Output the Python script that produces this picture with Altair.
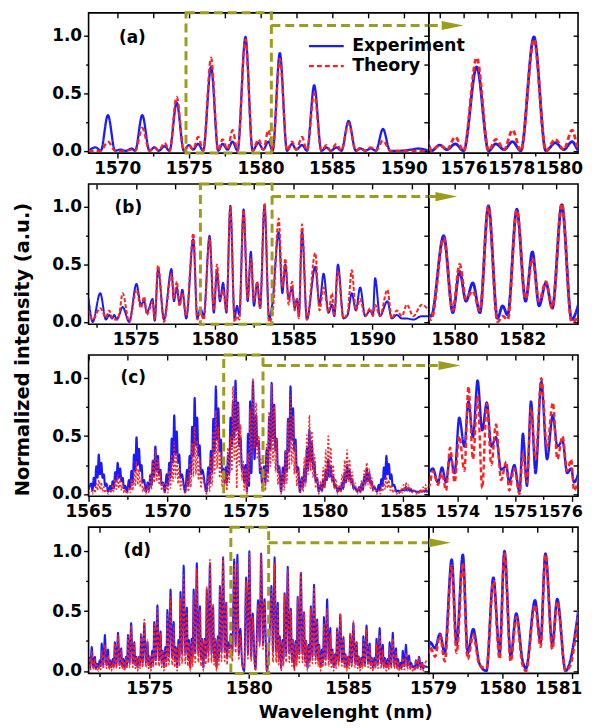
import altair as alt
import pandas as pd

# ---------------- data ----------------
SERIES = ["Experiment", "Theory"]

# panel (a)
A_WL = [1568.0, 1568.5, 1568.85, 1569.35, 1569.85, 1570.2, 1570.6, 1571.0, 1571.25, 1571.75,
        1572.25, 1572.6, 1572.9, 1573.3, 1573.65, 1574.15, 1574.65, 1575.0, 1575.3, 1575.65,
        1576.0, 1576.55, 1577.05, 1577.35, 1577.7, 1578.05, 1578.4, 1578.95, 1579.45, 1579.85,
        1580.2, 1580.55, 1580.85, 1581.35, 1581.85, 1582.2, 1582.5, 1582.9, 1583.25, 1583.75,
        1584.25, 1584.6, 1584.9, 1585.3, 1585.65, 1586.15, 1586.65, 1587.0, 1587.3, 1587.7,
        1588.05, 1588.55, 1589.05, 1589.6, 1590.5, 1591.0, 1591.75]
A_EXP = [0.0, 0.03, 0.0, 0.31, 0.0, 0.01, 0.0, 0.02, 0.0, 0.31,
         0.0, 0.03, 0.0, 0.04, 0.0, 0.42, 0.0, 0.05, 0.01, 0.06,
         0.0, 0.73, 0.0, 0.06, 0.01, 0.08, 0.0, 0.99, 0.0, 0.07,
         0.01, 0.08, 0.0, 0.85, 0.0, 0.06, 0.01, 0.05, 0.0, 0.57,
         0.0, 0.03, 0.0, 0.03, 0.0, 0.26, 0.0, 0.02, 0.0, 0.02,
         0.0, 0.19, 0.0, 0.0, 0.01, 0.02, 0.0]
A_THEO = [0.0, 0.0, 0.0, 0.08, 0.0, 0.0, 0.0, 0.01, 0.0, 0.2,
          0.0, 0.03, 0.0, 0.07, 0.0, 0.47, 0.0, 0.05, 0.01, 0.12,
          0.0, 0.81, 0.0, 0.1, 0.01, 0.18, 0.0, 0.97, 0.0, 0.1,
          0.01, 0.18, 0.0, 0.8, 0.0, 0.08, 0.01, 0.12, 0.0, 0.5,
          0.0, 0.05, 0.0, 0.06, 0.0, 0.24, 0.0, 0.03, 0.0, 0.03,
          0.0, 0.09, 0.0, 0.0, 0.0, 0.0, 0.0]

# panel (b)
B_WL = [1572.0, 1572.26, 1572.74, 1573.1, 1573.31, 1573.5, 1573.63, 1573.8, 1573.94, 1574.16,
        1574.58, 1575.04, 1575.32, 1575.53, 1575.7, 1575.84, 1576.06, 1576.2, 1576.41, 1576.79,
        1577.26, 1577.42, 1577.6, 1577.78, 1577.95, 1578.2, 1578.65, 1578.9, 1579.1, 1579.31,
        1579.68, 1579.95, 1580.15, 1580.34, 1580.54, 1580.75, 1581.0, 1581.27, 1581.42, 1581.57,
        1581.84, 1582.1, 1582.3, 1582.5, 1582.7, 1582.89, 1583.17, 1583.46, 1583.66, 1584.07,
        1584.3, 1584.49, 1584.7, 1584.92, 1585.08, 1585.23, 1585.35, 1585.55, 1585.86, 1586.39,
        1586.66, 1586.92, 1587.23, 1587.45, 1587.6, 1587.83, 1588.18, 1588.44, 1588.71, 1588.97,
        1589.24, 1589.56, 1589.87, 1590.05, 1590.19, 1590.5, 1590.97, 1591.25, 1591.57, 1591.89,
        1592.2, 1592.62, 1593.15, 1593.6]
B_EXP = [0.2, 0.0, 0.25, 0.02, 0.06, 0.03, 0.06, 0.02, 0.06, 0.13,
         0.0, 0.33, 0.15, 0.18, 0.08, 0.12, 0.2, 0.01, 0.46, 0.02,
         0.46, 0.18, 0.3, 0.15, 0.28, 0.03, 0.72, 0.03, 0.12, 0.05,
         0.75, 0.08, 0.44, 0.18, 0.34, 0.08, 1.01, 0.03, 0.14, 0.06,
         0.98, 0.18, 0.61, 0.14, 0.34, 0.12, 1.02, 0.02, 0.15, 0.78,
         0.25, 0.5, 0.2, 0.3, 0.12, 0.2, 0.05, 0.79, 0.02, 0.48,
         0.15, 0.42, 0.08, 0.15, 0.05, 0.5, 0.03, 0.06, 0.25, 0.1,
         0.3, 0.05, 0.1, 0.06, 0.38, 0.05, 0.18, 0.03, 0.06, 0.03,
         0.03, 0.02, 0.05, 0.05]
B_THEO = [0.1, 0.02, 0.12, 0.04, 0.1, 0.03, 0.02, 0.02, 0.06, 0.25,
          0.0, 0.28, 0.12, 0.22, 0.06, 0.1, 0.18, 0.02, 0.49, 0.0,
          0.42, 0.2, 0.35, 0.14, 0.25, 0.05, 0.77, 0.02, 0.08, 0.02,
          0.73, 0.1, 0.5, 0.2, 0.27, 0.1, 1.0, 0.0, 0.05, 0.02,
          0.97, 0.2, 0.55, 0.18, 0.35, 0.12, 1.03, 0.0, 0.05, 0.9,
          0.3, 0.55, 0.15, 0.35, 0.1, 0.2, 0.03, 0.85, 0.02, 0.6,
          0.1, 0.3, 0.08, 0.25, 0.05, 0.45, 0.03, 0.08, 0.45, 0.1,
          0.2, 0.05, 0.12, 0.05, 0.15, 0.05, 0.28, 0.03, 0.1, 0.05,
          0.15, 0.05, 0.15, 0.1]

# panel (c)
C_WL = [
    1565.0, 1565.17, 1565.25, 1565.33, 1565.41, 1565.49, 1565.57, 1565.65, 1565.73, 1565.81, 1565.89, 1565.97, 1566.05, 1566.13,
    1566.25, 1566.37, 1566.45, 1566.53, 1566.61, 1566.69, 1566.77, 1566.85, 1566.93, 1567.01, 1567.09, 1567.17, 1567.25, 1567.33,
    1567.45, 1567.57, 1567.65, 1567.73, 1567.81, 1567.89, 1567.97, 1568.05, 1568.13, 1568.21, 1568.29, 1568.37, 1568.45, 1568.53,
    1568.65, 1568.77, 1568.85, 1568.93, 1569.01, 1569.09, 1569.17, 1569.25, 1569.33, 1569.41, 1569.49, 1569.57, 1569.65, 1569.73,
    1569.85, 1569.97, 1570.05, 1570.13, 1570.21, 1570.29, 1570.37, 1570.45, 1570.53, 1570.61, 1570.69, 1570.77, 1570.85, 1570.93,
    1571.15, 1571.27, 1571.35, 1571.43, 1571.51, 1571.59, 1571.67, 1571.75, 1571.83, 1571.91, 1571.99, 1572.07, 1572.15, 1572.23,
    1572.5, 1572.62, 1572.7, 1572.78, 1572.86, 1572.94, 1573.02, 1573.1, 1573.18, 1573.26, 1573.34, 1573.42, 1573.5,
    1573.57, 1573.66, 1573.73, 1573.8, 1573.87, 1573.95, 1574.03, 1574.12, 1574.19, 1574.27, 1574.35, 1574.43, 1574.51, 1574.59,
    1574.67, 1574.76, 1574.85, 1574.9, 1574.99, 1575.08, 1575.14, 1575.21, 1575.28, 1575.36, 1575.46, 1575.56, 1575.66, 1575.74,
    1575.83, 1575.91, 1575.98, 1576.03,
    1576.17, 1576.25, 1576.33, 1576.41, 1576.49, 1576.57, 1576.65, 1576.73, 1576.81, 1576.89, 1576.97, 1577.05, 1577.13,
    1577.25, 1577.37, 1577.45, 1577.53, 1577.61, 1577.69, 1577.77, 1577.85, 1577.93, 1578.01, 1578.09, 1578.17, 1578.25, 1578.33,
    1578.45, 1578.57, 1578.65, 1578.73, 1578.81, 1578.89, 1578.97, 1579.05, 1579.13, 1579.21, 1579.29, 1579.37, 1579.45, 1579.53,
    1579.65, 1579.77, 1579.85, 1579.93, 1580.01, 1580.09, 1580.17, 1580.25, 1580.33, 1580.41, 1580.49, 1580.57, 1580.65, 1580.73,
    1580.85, 1580.97, 1581.05, 1581.13, 1581.21, 1581.29, 1581.37, 1581.45, 1581.53, 1581.61, 1581.69, 1581.77, 1581.85, 1581.93,
    1582.1, 1582.22, 1582.3, 1582.38, 1582.46, 1582.54, 1582.62, 1582.7, 1582.78, 1582.86, 1582.94, 1583.02, 1583.1, 1583.18,
    1583.35, 1583.47, 1583.55, 1583.63, 1583.71, 1583.79, 1583.87, 1583.95, 1584.03, 1584.11, 1584.19, 1584.27, 1584.35, 1584.43,
    1584.6, 1584.72, 1584.8, 1584.88, 1584.96, 1585.04, 1585.12, 1585.2, 1585.28, 1585.36, 1585.44, 1585.52, 1585.6, 1585.68,
    1585.85, 1585.97, 1586.05, 1586.13, 1586.21, 1586.29, 1586.37, 1586.45, 1586.53, 1586.61, 1586.69, 1586.77]
C_EXP = [
    0.04, 0.09, 0.03, 0.14, 0.07, 0.24, 0.14, 0.34, 0.17, 0.27, 0.14, 0.17, 0.07, 0.09,
    0.02, 0.07, 0.03, 0.11, 0.05, 0.19, 0.11, 0.27, 0.14, 0.22, 0.11, 0.14, 0.05, 0.07,
    0.02, 0.12, 0.05, 0.2, 0.1, 0.34, 0.2, 0.49, 0.25, 0.39, 0.2, 0.25, 0.1, 0.12,
    0.02, 0.1, 0.04, 0.16, 0.08, 0.29, 0.16, 0.41, 0.21, 0.33, 0.16, 0.21, 0.08, 0.1,
    0.02, 0.17, 0.07, 0.27, 0.14, 0.48, 0.27, 0.68, 0.34, 0.54, 0.27, 0.34, 0.14, 0.17,
    0.02, 0.21, 0.08, 0.33, 0.17, 0.58, 0.33, 0.83, 0.42, 0.66, 0.33, 0.42, 0.17, 0.21,
    0.02, 0.23, 0.09, 0.37, 0.19, 0.65, 0.37, 0.93, 0.47, 0.74, 0.37, 0.47, 0.19,
    0.22, 0.1, 0.23, 0.1, 0.33, 0.18, 0.66, 0.41, 0.8, 0.49, 0.98, 0.55, 0.79, 0.41,
    0.49, 0.21, 0.24, 0.1, 0.25, 0.02, 0.52, 0.07, 0.8, 0.18, 0.97, 0.3, 0.68, 0.41,
    0.46, 0.18, 0.22, 0.1,
    0.24, 0.1, 0.38, 0.19, 0.67, 0.38, 0.96, 0.48, 0.77, 0.38, 0.48, 0.19, 0.24,
    0.02, 0.23, 0.09, 0.37, 0.19, 0.65, 0.37, 0.93, 0.47, 0.74, 0.37, 0.47, 0.19, 0.23,
    0.02, 0.14, 0.06, 0.22, 0.11, 0.39, 0.22, 0.55, 0.28, 0.44, 0.22, 0.28, 0.11, 0.14,
    0.02, 0.08, 0.03, 0.12, 0.06, 0.21, 0.12, 0.3, 0.15, 0.24, 0.12, 0.15, 0.06, 0.08,
    0.02, 0.06, 0.03, 0.1, 0.05, 0.18, 0.1, 0.25, 0.13, 0.2, 0.1, 0.13, 0.05, 0.06,
    0.02, 0.06, 0.02, 0.09, 0.04, 0.15, 0.09, 0.22, 0.11, 0.18, 0.09, 0.11, 0.04, 0.06,
    0.02, 0.08, 0.03, 0.13, 0.07, 0.23, 0.13, 0.33, 0.17, 0.26, 0.13, 0.17, 0.07, 0.08,
    0.02, 0.03, 0.02, 0.03, 0.03, 0.04, 0.03, 0.06, 0.03, 0.05, 0.03, 0.04, 0.02, 0.03,
    0.02, 0.02, 0.02, 0.03, 0.02, 0.03, 0.02, 0.03, 0.02, 0.03, 0.02, 0.03]
C_THEO = [
    0.0, 0.03, 0.0, 0.05, 0.01, 0.09, 0.03, 0.12, 0.04, 0.1, 0.02, 0.06, 0.01, 0.03,
    0.0, 0.04, 0.01, 0.08, 0.02, 0.13, 0.04, 0.17, 0.05, 0.14, 0.03, 0.09, 0.01, 0.04,
    0.0, 0.06, 0.01, 0.13, 0.03, 0.21, 0.07, 0.28, 0.08, 0.22, 0.06, 0.14, 0.02, 0.07,
    0.0, 0.08, 0.01, 0.17, 0.04, 0.29, 0.1, 0.38, 0.11, 0.3, 0.08, 0.19, 0.03, 0.1,
    0.0, 0.1, 0.01, 0.2, 0.05, 0.34, 0.11, 0.45, 0.14, 0.36, 0.09, 0.23, 0.04, 0.11,
    0.0, 0.13, 0.02, 0.26, 0.06, 0.44, 0.15, 0.58, 0.17, 0.46, 0.12, 0.29, 0.05, 0.15,
    0.0, 0.16, 0.02, 0.32, 0.07, 0.54, 0.18, 0.72, 0.22, 0.58, 0.14, 0.36, 0.06,
    0.2, 0.08, 0.18, 0.03, 0.4, 0.1, 0.5, 0.2, 0.93, 0.3, 0.85, 0.05, 0.78, 0.25,
    0.6, 0.12, 0.28, 0.03, 0.22, 0.0, 0.35, 0.1, 0.74, 0.3, 1.0, 0.4, 0.79, 0.3,
    0.5, 0.2, 0.3, 0.03,
    0.21, 0.03, 0.43, 0.1, 0.71, 0.24, 0.95, 0.29, 0.76, 0.19, 0.48, 0.08, 0.24,
    0.0, 0.19, 0.03, 0.38, 0.09, 0.64, 0.21, 0.85, 0.26, 0.68, 0.17, 0.43, 0.07, 0.21,
    0.0, 0.15, 0.02, 0.31, 0.07, 0.51, 0.17, 0.68, 0.2, 0.54, 0.14, 0.34, 0.05, 0.17,
    0.0, 0.11, 0.02, 0.23, 0.05, 0.38, 0.13, 0.5, 0.15, 0.4, 0.1, 0.25, 0.04, 0.13,
    0.0, 0.08, 0.01, 0.17, 0.04, 0.29, 0.1, 0.38, 0.11, 0.3, 0.08, 0.19, 0.03, 0.1,
    0.0, 0.06, 0.01, 0.12, 0.03, 0.2, 0.07, 0.27, 0.08, 0.22, 0.05, 0.14, 0.02, 0.07,
    0.0, 0.03, 0.0, 0.07, 0.02, 0.11, 0.04, 0.15, 0.05, 0.12, 0.03, 0.08, 0.01, 0.04,
    0.0, 0.02, 0.0, 0.05, 0.01, 0.08, 0.03, 0.1, 0.03, 0.08, 0.02, 0.05, 0.01, 0.03,
    0.0, 0.02, 0.0, 0.04, 0.01, 0.06, 0.02, 0.08, 0.02, 0.06, 0.02, 0.05]

# panel (d)
D_WL = [
    1572.0, 1572.03, 1572.11, 1572.19, 1572.27, 1572.32, 1572.37,
    1572.44, 1572.51, 1572.56, 1572.61, 1572.69, 1572.77, 1572.85, 1572.93, 1572.98, 1573.03,
    1573.1, 1573.17, 1573.22, 1573.27, 1573.35, 1573.43, 1573.51, 1573.59, 1573.64, 1573.69,
    1573.76, 1573.83, 1573.88, 1573.93, 1574.01, 1574.09, 1574.17, 1574.25, 1574.3, 1574.35,
    1574.42, 1574.49, 1574.54, 1574.59, 1574.67, 1574.75, 1574.83, 1574.91, 1574.96, 1575.01,
    1575.08, 1575.15, 1575.2, 1575.25, 1575.33, 1575.41, 1575.49, 1575.57, 1575.62, 1575.67,
    1575.74, 1575.81, 1575.86, 1575.91, 1575.99, 1576.07, 1576.15, 1576.23, 1576.28, 1576.33,
    1576.4, 1576.47, 1576.52, 1576.57, 1576.65, 1576.73, 1576.81, 1576.89, 1576.94, 1576.99,
    1577.06, 1577.13, 1577.18, 1577.23, 1577.31, 1577.39, 1577.47, 1577.55, 1577.6, 1577.65,
    1577.72, 1577.79, 1577.84, 1577.89, 1577.97, 1578.05, 1578.13, 1578.21, 1578.26, 1578.31,
    1578.38, 1578.45, 1578.5, 1578.55, 1578.63, 1578.71, 1578.79, 1578.87, 1578.91,
    1578.96, 1579.03, 1579.1, 1579.17, 1579.27, 1579.34, 1579.43, 1579.5, 1579.58, 1579.67,
    1579.77, 1579.87, 1579.96, 1580.03, 1580.12, 1580.2, 1580.29, 1580.34, 1580.47, 1580.55,
    1580.62, 1580.72, 1580.79, 1580.91, 1580.98, 1581.08,
    1581.14, 1581.22, 1581.3, 1581.38, 1581.46, 1581.51, 1581.56,
    1581.63, 1581.7, 1581.75, 1581.8, 1581.88, 1581.96, 1582.04, 1582.12, 1582.17, 1582.22,
    1582.29, 1582.36, 1582.41, 1582.46, 1582.54, 1582.62, 1582.7, 1582.78, 1582.83, 1582.88,
    1582.95, 1583.02, 1583.07, 1583.12, 1583.2, 1583.28, 1583.36, 1583.44, 1583.49, 1583.54,
    1583.61, 1583.68, 1583.73, 1583.78, 1583.86, 1583.94, 1584.02, 1584.1, 1584.15, 1584.2,
    1584.27, 1584.34, 1584.39, 1584.44, 1584.52, 1584.6, 1584.68, 1584.76, 1584.81, 1584.86,
    1584.93, 1585.0, 1585.05, 1585.1, 1585.18, 1585.26, 1585.34, 1585.42, 1585.47, 1585.52,
    1585.59, 1585.66, 1585.71, 1585.76, 1585.84, 1585.92, 1586.0, 1586.08, 1586.13, 1586.18,
    1586.25, 1586.32, 1586.37, 1586.42, 1586.5, 1586.58, 1586.66, 1586.74, 1586.79, 1586.84,
    1586.91, 1586.98, 1587.03, 1587.08, 1587.16, 1587.24, 1587.32, 1587.4, 1587.45, 1587.5,
    1587.57, 1587.64, 1587.69, 1587.74, 1587.82, 1587.9, 1587.98, 1588.06, 1588.11, 1588.16,
    1588.23, 1588.3, 1588.35, 1588.4, 1588.48, 1588.56, 1588.64, 1588.72, 1588.77, 1588.82, 1589.0]
D_EXP = [
    0.12, 0.03, 0.2, 0.03, 0.12, 0.02, 0.06,
    0.03, 0.09, 0.04, 0.23, 0.05, 0.3, 0.05, 0.18, 0.04, 0.09,
    0.03, 0.1, 0.04, 0.24, 0.05, 0.32, 0.05, 0.19, 0.04, 0.1,
    0.03, 0.12, 0.05, 0.3, 0.07, 0.4, 0.07, 0.24, 0.05, 0.12,
    0.03, 0.12, 0.05, 0.3, 0.07, 0.4, 0.07, 0.24, 0.05, 0.12,
    0.03, 0.17, 0.07, 0.41, 0.09, 0.55, 0.09, 0.33, 0.07, 0.17,
    0.03, 0.2, 0.08, 0.51, 0.12, 0.68, 0.12, 0.41, 0.08, 0.2,
    0.03, 0.26, 0.11, 0.66, 0.15, 0.88, 0.15, 0.53, 0.11, 0.26,
    0.03, 0.27, 0.11, 0.68, 0.15, 0.9, 0.15, 0.54, 0.11, 0.27,
    0.03, 0.27, 0.11, 0.68, 0.15, 0.9, 0.15, 0.54, 0.11, 0.27,
    0.03, 0.29, 0.11, 0.71, 0.16, 0.95, 0.16, 0.57, 0.11,
    0.24, 0.19, 0.31, 0.15, 0.93, 0.22, 0.97, 0.15, 0.35, 0.06,
    0.0, 0.78, 0.15, 1.0, 0.12, 0.48, 0.09, 0.02, 0.59, 0.24,
    0.98, 0.22, 0.6, 0.0, 0.09, 0.44,
    0.71, 0.16, 0.95, 0.16, 0.57, 0.11, 0.29,
    0.03, 0.26, 0.1, 0.65, 0.15, 0.87, 0.15, 0.52, 0.1, 0.26,
    0.03, 0.25, 0.1, 0.62, 0.14, 0.82, 0.14, 0.49, 0.1, 0.25,
    0.03, 0.22, 0.09, 0.54, 0.12, 0.72, 0.12, 0.43, 0.09, 0.22,
    0.03, 0.18, 0.07, 0.45, 0.1, 0.6, 0.1, 0.36, 0.07, 0.18,
    0.03, 0.14, 0.06, 0.35, 0.08, 0.47, 0.08, 0.28, 0.06, 0.14,
    0.03, 0.12, 0.05, 0.3, 0.07, 0.4, 0.07, 0.24, 0.05, 0.12,
    0.03, 0.11, 0.05, 0.29, 0.06, 0.38, 0.06, 0.23, 0.05, 0.11,
    0.03, 0.11, 0.04, 0.27, 0.06, 0.36, 0.06, 0.22, 0.04, 0.11,
    0.03, 0.1, 0.04, 0.24, 0.05, 0.32, 0.05, 0.19, 0.04, 0.1,
    0.03, 0.07, 0.03, 0.17, 0.04, 0.22, 0.04, 0.13, 0.03, 0.07,
    0.03, 0.04, 0.02, 0.09, 0.03, 0.12, 0.03, 0.07, 0.02, 0.04, 0.03]
D_THEO = [
    0.1, 0.01, 0.17, 0.01, 0.1, 0.01, 0.05,
    0.0, 0.06, 0.01, 0.17, 0.02, 0.22, 0.02, 0.13, 0.01, 0.07,
    0.0, 0.08, 0.02, 0.23, 0.02, 0.3, 0.02, 0.18, 0.02, 0.09,
    0.0, 0.11, 0.02, 0.29, 0.03, 0.38, 0.03, 0.23, 0.02, 0.11,
    0.0, 0.12, 0.02, 0.32, 0.03, 0.43, 0.03, 0.26, 0.02, 0.13,
    0.0, 0.15, 0.03, 0.39, 0.04, 0.52, 0.04, 0.31, 0.03, 0.16,
    0.0, 0.17, 0.03, 0.47, 0.05, 0.62, 0.05, 0.37, 0.03, 0.19,
    0.0, 0.22, 0.04, 0.6, 0.06, 0.8, 0.06, 0.48, 0.04, 0.24,
    0.0, 0.24, 0.04, 0.64, 0.07, 0.85, 0.07, 0.51, 0.04, 0.26,
    0.0, 0.26, 0.05, 0.7, 0.07, 0.93, 0.07, 0.56, 0.05, 0.28,
    0.0, 0.27, 0.05, 0.71, 0.08, 0.95, 0.08, 0.57, 0.05,
    0.2, 0.12, 0.3, 0.08, 0.88, 0.15, 0.9, 0.1, 0.3, 0.05,
    0.02, 0.75, 0.1, 0.98, 0.08, 0.45, 0.05, 0.0, 0.55, 0.2,
    0.97, 0.18, 0.58, 0.0, 0.05, 0.4,
    0.68, 0.07, 0.9, 0.07, 0.54, 0.05, 0.27,
    0.0, 0.24, 0.04, 0.64, 0.07, 0.85, 0.07, 0.51, 0.04, 0.26,
    0.0, 0.23, 0.04, 0.62, 0.07, 0.82, 0.07, 0.49, 0.04, 0.25,
    0.0, 0.2, 0.04, 0.53, 0.06, 0.7, 0.06, 0.42, 0.04, 0.21,
    0.0, 0.15, 0.03, 0.39, 0.04, 0.52, 0.04, 0.31, 0.03, 0.16,
    0.0, 0.13, 0.02, 0.36, 0.04, 0.48, 0.04, 0.29, 0.02, 0.14,
    0.0, 0.12, 0.02, 0.32, 0.03, 0.42, 0.03, 0.25, 0.02, 0.13,
    0.0, 0.1, 0.02, 0.26, 0.03, 0.35, 0.03, 0.21, 0.02, 0.1,
    0.0, 0.08, 0.02, 0.23, 0.02, 0.3, 0.02, 0.18, 0.02, 0.09,
    0.0, 0.08, 0.01, 0.2, 0.02, 0.27, 0.02, 0.16, 0.01, 0.08,
    0.0, 0.04, 0.01, 0.11, 0.01, 0.15, 0.01, 0.09, 0.01, 0.05,
    0.0, 0.03, 0.0, 0.09, 0.01, 0.12, 0.01, 0.07, 0.0, 0.04, 0.1]

# ---------------- style and layout ----------------
FONT = "DejaVu Sans"
BLUE = "#1a1aff"
RED = "#ff2020"
OLIVE = "#9c9c1e"
YDOM = [-0.02, 1.2]
MAIN_W, ZOOM_W = 342, 150
ARROW_SHAPE = "M -1 -0.42 L 1 0 L -1 0.42 Z"

PANELS = [
    dict(letter="(a)", wl=A_WL, exp=A_EXP, theo=A_THEO, h=141,
         main_dom=[1568.0, 1591.75], main_major=[1570, 1575, 1580, 1585, 1590],
         main_minor=[1572.5, 1577.5, 1582.5, 1587.5],
         zoom_dom=[1574.54, 1580.8], zoom_major=[1576, 1578, 1580], zoom_minor=[1575, 1577, 1579],
         zoom_last=None, zoom_fs=17,
         box=[1574.8, 1580.76], arrow_y=1.09, head=1575.54, letter_pos=(44, 25),
         main_sw=2.3, main_red_sw=2.3, main_dash=[5, 3], zoom_sw=2.8),
    dict(letter="(b)", wl=B_WL, exp=B_EXP, theo=B_THEO, h=141,
         main_dom=[1572.0, 1593.6], main_major=[1575, 1580, 1585, 1590],
         main_minor=[1572.5, 1577.5, 1582.5, 1587.5, 1592.5],
         zoom_dom=[1579.24, 1583.65], zoom_major=[1580, 1582], zoom_minor=[1581, 1583],
         zoom_last=None, zoom_fs=17,
         box=[1579.1, 1583.65], arrow_y=1.09, head=1579.76, letter_pos=(40, 24),
         main_sw=2.0, main_red_sw=2.0, main_dash=[4, 2], zoom_sw=2.8),
    dict(letter="(c)", wl=C_WL, exp=C_EXP, theo=C_THEO, h=142,
         main_dom=[1565.0, 1586.65], main_major=[1565, 1570, 1575, 1580, 1585],
         main_minor=[1567.5, 1572.5, 1577.5, 1582.5],
         zoom_dom=[1573.5, 1576.1], zoom_major=[1574, 1575, 1576], zoom_minor=[1574.5, 1575.5],
         zoom_last=1576, zoom_fs=16,
         box=[1573.6, 1576.1], arrow_y=1.11, head=1573.86, letter_pos=(45, 23),
         main_sw=2.1, main_red_sw=1.5, main_dash=[2, 2], zoom_sw=2.4),
    dict(letter="(d)", wl=D_WL, exp=D_EXP, theo=D_THEO, h=147,
         main_dom=[1571.95, 1589.05], main_major=[1575, 1580, 1585],
         main_minor=[1572.5, 1577.5, 1582.5, 1587.5],
         zoom_dom=[1578.94, 1581.09], zoom_major=[1579, 1580, 1581], zoom_minor=[1579.5, 1580.5],
         zoom_last=1581, zoom_fs=17,
         box=[1579.1, 1581.0], arrow_y=1.07, head=1579.1, letter_pos=(49, 24),
         main_sw=1.9, main_red_sw=1.5, main_dash=[3, 2], zoom_sw=2.6),
]

LEGEND = alt.Legend(orient="none", legendX=220, legendY=23.5, title=None,
                    labelFont=FONT, labelFontWeight="bold", labelFontSize=17.5, labelColor="black",
                    symbolType="stroke", symbolSize=1225, symbolStrokeWidth=2.5,
                    labelOffset=7, rowPadding=0, clipHeight=20, padding=0)


def long_df(wl, exp, theo):
    assert len(wl) == len(exp) == len(theo), (len(wl), len(exp), len(theo))
    n = len(wl)
    return pd.DataFrame({"wl": list(wl) + list(wl),
                         "val": list(exp) + list(theo),
                         "series": [SERIES[0]] * n + [SERIES[1]] * n})


def lab_axis(orient, values, fmt, **extra):
    base = dict(orient=orient, values=values, format=fmt, labelFont=FONT, labelFontWeight="bold",
                labelFontSize=17, labelColor="black", labelPadding=2, labelFlush=False,
                labelOverlap=False, tickColor="black", tickSize=5, tickWidth=1.4,
                domain=False, grid=False, title=None)
    base.update(extra)
    return alt.Axis(**base)


def tick_axis(orient, values, size, offset=0):
    return alt.Axis(orient=orient, values=values, labels=False, tickColor="black", tickSize=size,
                    tickWidth=1.4, domain=False, grid=False, title=None, offset=offset)


def color_enc(legend):
    return alt.Color("series:N", scale=alt.Scale(domain=SERIES, range=[BLUE, RED]), legend=legend)


def dash_enc(dash, legend):
    return alt.StrokeDash("series:N", scale=alt.Scale(domain=SERIES, range=[[1, 0], dash]), legend=legend)


def width_enc(blue_w, red_w):
    return alt.StrokeWidth("series:N", scale=alt.Scale(domain=SERIES, range=[blue_w, red_w]), legend=None)


def build_row(i, p):
    df = long_df(p["wl"], p["exp"], p["theo"])
    h = p["h"]
    ys = alt.Scale(domain=YDOM, nice=False, zero=False)
    xs = alt.Scale(domain=p["main_dom"], nice=False, zero=False)
    x_extra, y_extra = {}, {}
    if i == 3:
        x_extra = dict(title="Wavelenght (nm)", titleFont=FONT, titleFontWeight="bold", titleFontSize=18,
                       titleColor="black", titleX=258, titleY=44, titleAlign="center",
                       titleBaseline="alphabetic")
    if i == 1:
        y_extra = dict(title="Normalized intensity (a.u.)", titleFont=FONT, titleFontWeight="bold",
                       titleFontSize=19.5, titleColor="black", titleX=-66, titleY=166, titleAngle=270,
                       titleAlign="center", titleBaseline="middle")
    legend = LEGEND if i == 0 else None

    lines = alt.Chart(df).mark_line(interpolate="monotone", clip=True).encode(
        x=alt.X("wl:Q", scale=xs, axis=lab_axis("bottom", p["main_major"], "d", **x_extra)),
        y=alt.Y("val:Q", scale=ys, axis=lab_axis("left", [0, 0.5, 1.0], ".1f", **y_extra)),
        color=color_enc(legend), strokeDash=dash_enc(p["main_dash"], legend),
        strokeWidth=width_enc(p["main_sw"], p["main_red_sw"]))

    box_df = pd.DataFrame({"x": [p["box"][0]], "x2": [p["box"][1]], "y": [YDOM[0]], "y2": [YDOM[1]]})
    box = alt.Chart(box_df).mark_rect(fillOpacity=0, stroke=OLIVE, strokeWidth=3, strokeDash=[9, 5]).encode(
        x=alt.X("x:Q", scale=xs, axis=tick_axis("bottom", p["main_minor"], 3)),
        x2="x2:Q",
        y=alt.Y("y:Q", scale=ys, axis=tick_axis("left", [0.25, 0.75], 3)),
        y2="y2:Q")

    arr_df = pd.DataFrame({"x": [p["box"][1]], "x2": [p["main_dom"][1]], "y": [p["arrow_y"]]})
    arrow = alt.Chart(arr_df).mark_rule(color=OLIVE, strokeWidth=3, strokeDash=[9, 5]).encode(
        x=alt.X("x:Q", scale=xs, axis=tick_axis("bottom", p["main_major"] + p["main_minor"], 5, offset=-h)),
        x2="x2:Q",
        y=alt.Y("y:Q", scale=ys, axis=tick_axis("left", [0, 0.25, 0.5, 0.75, 1.0], 5, offset=-MAIN_W)))

    lx, ly = p["letter_pos"]
    letter = alt.Chart(pd.DataFrame({"t": [p["letter"]]})).mark_text(
        font=FONT, fontWeight="bold", fontSize=17, color="black", align="center", baseline="middle"
    ).encode(x=alt.value(lx), y=alt.value(ly), text="t:N")

    main = alt.layer(lines, box, arrow, letter).resolve_axis(
        x="independent", y="independent").properties(width=MAIN_W, height=h)

    zxs = alt.Scale(domain=p["zoom_dom"], nice=False, zero=False)
    z_extra = dict(labelFontSize=p["zoom_fs"])
    if p["zoom_last"] is not None:
        test = "datum.value >= %s" % p["zoom_last"]
        z_extra["labelAlign"] = {"condition": {"test": test, "value": "right"}, "value": "center"}
        z_extra["labelOffset"] = {"condition": {"test": test, "value": 10}, "value": 0}
    zlines = alt.Chart(df).mark_line(interpolate="monotone", clip=True, strokeWidth=p["zoom_sw"]).encode(
        x=alt.X("wl:Q", scale=zxs, axis=lab_axis("bottom", p["zoom_major"], "d", **z_extra)),
        y=alt.Y("val:Q", scale=ys, axis=tick_axis("left", [0, 0.25, 0.5, 0.75, 1.0], 5, offset=-ZOOM_W)),
        color=color_enc(None), strokeDash=dash_enc([5, 3], None))
    zarr_df = pd.DataFrame({"x": [p["zoom_dom"][0]], "x2": [p["head"]], "y": [p["arrow_y"]]})
    zarrow = alt.Chart(zarr_df).mark_rule(color=OLIVE, strokeWidth=3, strokeDash=[9, 5]).encode(
        x=alt.X("x:Q", scale=zxs, axis=tick_axis("bottom", p["zoom_minor"], 3)),
        x2="x2:Q",
        y=alt.Y("y:Q", scale=ys, axis=None))
    zhead = alt.Chart(pd.DataFrame({"x": [p["head"]], "y": [p["arrow_y"]]})).mark_point(
        shape=ARROW_SHAPE, filled=True, size=484, color=OLIVE, opacity=1).encode(
        x=alt.X("x:Q", scale=zxs, axis=tick_axis("bottom", p["zoom_major"] + p["zoom_minor"], 5, offset=-h)),
        y=alt.Y("y:Q", scale=ys, axis=None))
    zoom = alt.layer(zlines, zarrow, zhead).resolve_axis(
        x="independent", y="independent").properties(width=ZOOM_W, height=h)
    return main, zoom


cells = []
for i, p in enumerate(PANELS):
    m, z = build_row(i, p)
    cells += [m, z]

chart = alt.concat(
    *cells, columns=2, spacing={"row": 31, "column": 0}, bounds="flush", align="each"
).resolve_scale(
    color="independent", strokeDash="independent", strokeWidth="independent"
).properties(
    padding={"left": 4, "top": 0, "right": 0, "bottom": 0}, background="white"
).configure_view(stroke="black", strokeWidth=1.6)

chart.save("out.html", embed_options={"renderer": "svg", "actions": False})
